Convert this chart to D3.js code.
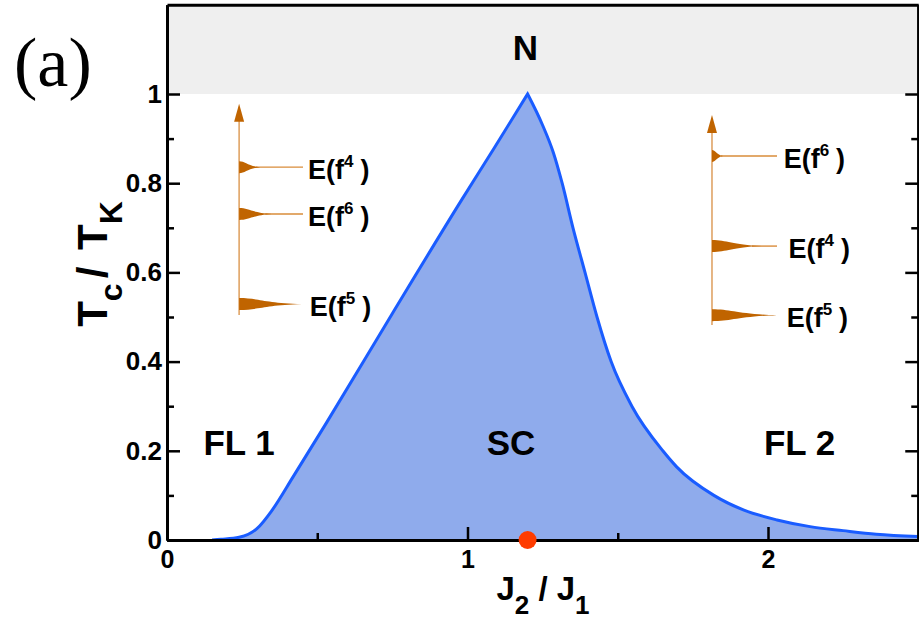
<!DOCTYPE html>
<html>
<head>
<meta charset="utf-8">
<script src="https://cdn.jsdelivr.net/npm/d3@7"></script>
<style>
  body { margin: 0; background: #fff; }
  svg text { font-family: "Liberation Sans", Arial, sans-serif; font-weight: bold; }
</style>
</head>
<body>
<script>
// Tc / TK against J2 / J1
var tcX = [0.15, 0.18, 0.24, 0.30, 0.35, 0.42, 0.53, 0.75, 0.98, 1.09, 1.20,
           1.25, 1.285, 1.315, 1.351, 1.391, 1.431, 1.478, 1.547, 1.65, 1.696, 1.82, 1.92, 2.03, 2.14, 2.25, 2.36, 2.50];
var tcY = [0.0, 0.0015, 0.006, 0.026, 0.067, 0.142, 0.262, 0.508, 0.762, 0.880, 1.0,
           0.930, 0.870, 0.800, 0.700, 0.600, 0.500, 0.400, 0.300, 0.200, 0.164, 0.100, 0.067, 0.045, 0.030, 0.021, 0.013, 0.008];
var peakIndex = 10;
var qcpX = [1.2];
var qcpY = [0];

var xTicks = [0, 1, 2];
var xMinor = [0.5, 1.5];
var yTicks = [0, 0.2, 0.4, 0.6, 0.8, 1];
var yMinor = [0.1, 0.3, 0.5, 0.7, 0.9];

var regionNames = ["FL 1", "SC", "FL 2", "N"];
var regionX = [0.24, 1.145, 2.105, 1.193];
var regionY = [0.19, 0.19, 0.19, 1.076];

// level schemes (energy axis drawn in plot units)
var leftLevels = ["4", "6", "5"];
var leftEnergy = [0.836, 0.731, 0.529];
var leftWeight = [0.070, 0.109, 0.209];
var rightLevels = ["6", "4", "5"];
var rightEnergy = [0.861, 0.659, 0.504];
var rightWeight = [0.037, 0.166, 0.216];

var svgWidth = 919, svgHeight = 619;
var svg = d3.select("body").append("svg")
  .attr("width", svgWidth)
  .attr("height", svgHeight);

var x = d3.scaleLinear().domain([0, 2.5]).range([167, 918.25]);
var y = d3.scaleLinear().domain([0, 1.2]).range([540, 4.8]);

// normal state band
svg.append("rect")
  .attr("x", x(0)).attr("y", y(1.2))
  .attr("width", x(2.5) - x(0)).attr("height", y(1) - y(1.2))
  .attr("fill", "#efefef");

// Tc curve: two monotone halves so the top stays pointed
var pts = tcX.map(function(d, i) { return [d, tcY[i]]; });
var line = d3.line().x(d => x(d[0])).y(d => y(d[1])).curve(d3.curveMonotoneX);
var curvePath = line(pts.slice(0, peakIndex + 1)) +
  line(pts.slice(peakIndex)).replace(/^M/, "L");

svg.append("path")
  .attr("d", curvePath + "L" + x(tcX[tcX.length - 1]) + "," + y(0) + "L" + x(tcX[0]) + "," + y(0) + "Z")
  .attr("fill", "#8fabec");

svg.append("path")
  .attr("d", curvePath)
  .attr("fill", "none")
  .attr("stroke", "#1a5cff")
  .attr("stroke-width", 3)
  .attr("stroke-linejoin", "miter");

// axes
function styleAxis(g, fs) {
  g.attr("font-size", fs).attr("font-family", "'Liberation Sans', Arial, sans-serif");
  g.select(".domain").attr("stroke", "#000").attr("stroke-width", 3);
  g.selectAll(".tick line").attr("stroke", "#000").attr("stroke-width", 2.5);
  g.selectAll(".tick text").attr("fill", "#000")
    .attr("font-size", fs)
    .style("font-size", fs + "px")
    .style("font-weight", "bold");
}

var fmt = d3.format("");
svg.append("g")
  .attr("transform", `translate(0,${y(0)})`)
  .call(d3.axisBottom(x).tickValues(xMinor).tickSizeInner(-7).tickSizeOuter(0).tickFormat(""))
  .call(g => styleAxis(g, 25));
svg.append("g")
  .attr("transform", `translate(0,${y(0)})`)
  .call(d3.axisBottom(x).tickValues(xTicks).tickSizeInner(-13).tickSizeOuter(0).tickPadding(10).tickFormat(fmt))
  .call(g => styleAxis(g, 25));

svg.append("g")
  .attr("transform", `translate(${x(0)},0)`)
  .call(d3.axisLeft(y).tickValues(yMinor).tickSizeInner(-7).tickSizeOuter(0).tickFormat(""))
  .call(g => styleAxis(g, 26));
svg.append("g")
  .attr("transform", `translate(${x(0)},0)`)
  .call(d3.axisLeft(y).tickValues(yTicks).tickSizeInner(-13).tickSizeOuter(0).tickPadding(5).tickFormat(fmt))
  .call(g => styleAxis(g, 26));

svg.append("g")
  .attr("transform", `translate(${x(2.5)},0)`)
  .call(d3.axisRight(y).tickValues(yMinor).tickSizeInner(-7).tickSizeOuter(0).tickFormat(""))
  .call(g => styleAxis(g, 26));
svg.append("g")
  .attr("transform", `translate(${x(2.5)},0)`)
  .call(d3.axisRight(y).tickValues(yTicks).tickSizeInner(-13).tickSizeOuter(0).tickFormat(""))
  .call(g => styleAxis(g, 26));

svg.append("g")
  .attr("transform", `translate(0,${y(1.2)})`)
  .call(d3.axisTop(x).tickValues([]).tickSizeOuter(0))
  .call(g => styleAxis(g, 22));

// quantum critical point
svg.selectAll("circle.qcp")
  .data(qcpX)
  .enter().append("circle")
  .attr("class", "qcp")
  .attr("cx", d => x(d))
  .attr("cy", (d, i) => y(qcpY[i]))
  .attr("r", 9)
  .attr("fill", "#ff3c00");

// region labels
svg.selectAll("text.region")
  .data(regionNames)
  .enter().append("text")
  .attr("class", "region")
  .attr("x", (d, i) => x(regionX[i]))
  .attr("y", (d, i) => y(regionY[i]))
  .attr("text-anchor", "middle")
  .style("font-size", "35px")
  .text(d => d);

// level scheme insets
function drawLevels(axisX, yBottom, yTop, levels, energy, weight, lineEnd, labelX) {
  var g = svg.append("g");
  var ax = x(axisX);
  g.append("line")
    .attr("x1", ax).attr("x2", ax)
    .attr("y1", y(yBottom)).attr("y2", y(yTop) + 14)
    .attr("stroke", "#e0a466").attr("stroke-width", 1.6);
  g.append("path")
    .attr("d", `M${ax},${y(yTop)} L${ax - 5},${y(yTop) + 18} L${ax + 5},${y(yTop) + 18} Z`)
    .attr("fill", "#c06400");
  levels.forEach(function(lev, i) {
    var ly = y(energy[i]);
    var L = x(axisX + weight[i]) - ax;
    if (lineEnd[i] != null) {
      g.append("line")
        .attr("x1", ax + L * 0.8).attr("x2", x(lineEnd[i]))
        .attr("y1", ly).attr("y2", ly)
        .attr("stroke", "#d98c3a").attr("stroke-width", 1.4);
    }
    g.append("path")
      .attr("d", `M${ax},${ly - 6} C${ax + L * 0.3},${ly - 6} ${ax + L * 0.4},${ly - 1.2} ${ax + L},${ly}` +
                 ` C${ax + L * 0.4},${ly + 1.2} ${ax + L * 0.3},${ly + 6} ${ax},${ly + 6} Z`)
      .attr("fill", "#c06400");
    var t = g.append("text")
      .attr("x", x(labelX[i]))
      .attr("y", ly + 12)
      .style("font-size", "27px");
    t.append("tspan").text("E(f");
    t.append("tspan").attr("dy", -12).style("font-size", "17px").text(lev);
    t.append("tspan").attr("dy", 12).attr("dx", 7).text(")");
  });
}

drawLevels(0.240, 0.5045, 0.978, leftLevels, leftEnergy, leftWeight,
  [0.4526, 0.4526, null], [0.469, 0.469, 0.475]);
drawLevels(1.8136, 0.482, 0.953, rightLevels, rightEnergy, rightWeight,
  [2.030, 2.030, null], [2.052, 2.068, 2.062]);

// axis titles
var xt = svg.append("text")
  .attr("x", 543).attr("y", 600)
  .attr("text-anchor", "middle")
  .style("font-size", "33px");
xt.append("tspan").text("J");
xt.append("tspan").attr("dy", 14).style("font-size", "26px").text("2");
xt.append("tspan").attr("dy", -14).text(" / J");
xt.append("tspan").attr("dy", 14).style("font-size", "26px").text("1");

var yt = svg.append("text")
  .attr("transform", "translate(107,264) rotate(-90)")
  .attr("text-anchor", "middle")
  .style("font-size", "42px");
yt.append("tspan").text("T");
yt.append("tspan").attr("dy", 15).style("font-size", "32px").text("c");
yt.append("tspan").attr("dy", -15).attr("dx", 5).text("/");
yt.append("tspan").attr("dx", 5).text(" T");
yt.append("tspan").attr("dy", 15).style("font-size", "32px").text("K");

// panel tag
svg.append("text")
  .attr("x", 14).attr("y", 86)
  .style("font-family", "'Liberation Serif', 'Times New Roman', serif")
  .style("font-weight", "normal")
  .style("font-size", "70px")
  .text("(a)");
</script>
</body>
</html>
